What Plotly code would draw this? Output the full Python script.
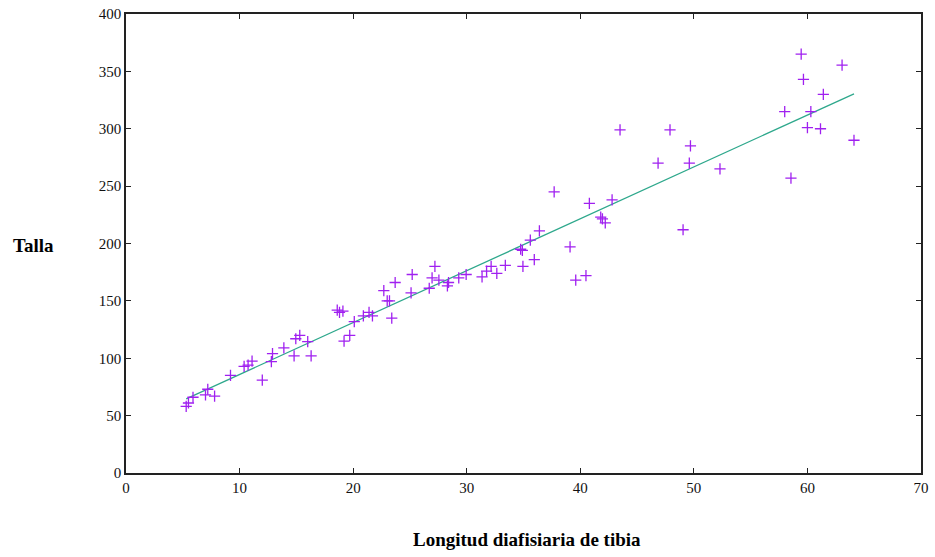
import numpy as np
import plotly.graph_objects as go

# Longitud diafisiaria de tibia (x) y talla (y)
tibia = [5.3, 5.5, 5.9, 7.0, 7.2, 7.8, 9.2, 10.4, 10.75, 11.1,
         12.0, 12.8, 12.9, 13.9, 14.8, 14.95, 15.3, 16.0, 16.3, 18.6,
         18.8, 19.1, 19.2, 19.7, 20.1, 20.9, 21.4, 21.7, 22.7, 23.0,
         23.2, 23.4, 23.7, 25.1, 25.2, 26.7, 26.95, 27.2, 27.55, 28.3,
         28.4, 29.3, 29.95, 31.35, 31.75, 32.15, 32.65, 33.4, 34.75, 34.9,
         34.95, 35.6, 35.95, 36.4, 37.7, 39.1, 39.6, 40.5, 40.8, 41.8,
         41.95, 42.2, 42.8, 43.5, 46.85, 47.9, 49.05, 49.6, 49.7, 52.3,
         58.0, 58.55, 59.45, 59.65, 60.0, 60.3, 61.15, 61.4, 63.05, 64.1]
talla = [58, 61, 66, 68, 73, 67, 85, 93, 94, 97.5,
         81, 97, 104, 109, 102, 117, 120, 114.5, 102, 142,
         140, 141, 115, 120, 132, 137, 140, 137, 159, 150,
         150, 135, 166, 157, 173, 161, 170, 180, 168, 163,
         166, 170, 173, 171, 176, 180, 174, 181, 195, 194,
         180, 203, 186, 211, 245, 197, 168, 172, 235, 223,
         221.5, 218, 238, 299, 270, 299, 212, 270, 285, 265,
         315, 257, 365, 343, 301, 315, 300, 330, 355.5, 290]

x_ticks = [0, 10, 20, 30, 40, 50, 60, 70]
y_ticks = [0, 50, 100, 150, 200, 250, 300, 350, 400]

# Recta de regresión por mínimos cuadrados
slope, intercept = np.polyfit(tibia, talla, 1)
x_fit = np.array([min(tibia), max(tibia)])
y_fit = intercept + slope * x_fit

fig = go.Figure()
fig.add_trace(go.Scatter(
    x=x_fit, y=y_fit, mode="lines",
    line=dict(color="#2ea88c", width=1.3),
    hoverinfo="skip", showlegend=False,
))
fig.add_trace(go.Scatter(
    x=tibia, y=talla, mode="markers",
    marker=dict(symbol="cross-thin", size=8,
                line=dict(color="#a020f0", width=1.3)),
    showlegend=False,
))

SERIF = "Liberation Serif"
axis_font = dict(family=SERIF, size=15, color="#111")
common = dict(
    showline=True, linecolor="#222", linewidth=1.5, mirror="ticks",
    ticks="inside", ticklen=5, tickwidth=1, tickcolor="#222",
    showgrid=False, zeroline=False, tickfont=axis_font, automargin=False,
)
fig.update_xaxes(range=[0, 70], tickvals=x_ticks, ticktext=[str(v) for v in x_ticks], **common)
fig.update_yaxes(range=[0, 400], tickvals=y_ticks, ticktext=[str(v) for v in y_ticks], **common)

title_font = dict(family=SERIF, size=19, color="#000")
fig.update_layout(
    width=935, height=557, autosize=False,
    margin=dict(l=126, r=14, t=14, b=84, pad=0),
    plot_bgcolor="white", paper_bgcolor="white",
    annotations=[
        dict(text="<b>Talla</b>", xref="paper", yref="paper", x=-0.116, y=0.496,
             xanchor="center", yanchor="middle", showarrow=False, font=title_font),
        dict(text="<b>Longitud diafisiaria de tibia</b>", xref="paper", yref="paper",
             x=0.505, y=-0.144, xanchor="center", yanchor="middle", showarrow=False,
             font=title_font),
    ],
)

fig.write_html("out.html")
